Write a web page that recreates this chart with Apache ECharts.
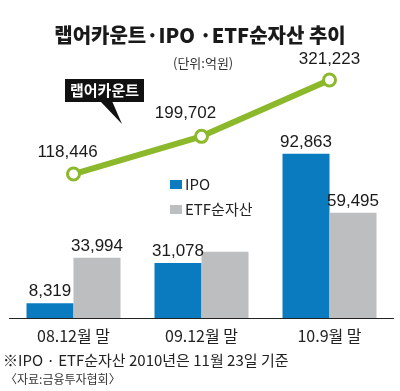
<!DOCTYPE html>
<html><head><meta charset="utf-8">
<script src="https://cdn.jsdelivr.net/npm/echarts@6/dist/echarts.min.js"></script>
<style>html,body{margin:0;padding:0;background:#fff}#c{width:400px;height:391px}</style>
</head><body><div id="c"></div>
<script>
const categories = ['08.12월 말', '09.12월 말', '10.9월 말'];
const ipo = [8319, 31078, 92863];
const etf = [33994, 37500, 59495];
const etfLabelShown = [true, false, true];
const wrap = [118446, 199702, 321223];
const wrapLabelOffsets = [[-6, -1], [-16, -2], [0, 0]];

const NUM = '"Liberation Sans Narrow", "Arial Narrow", "Liberation Sans", Arial, sans-serif';
const KR = '"Noto Sans CJK KR", "Noto Sans", sans-serif';
const chart = echarts.init(document.getElementById('c'));
chart.setOption({
  animation: false,
  backgroundColor: '#fff',
  title: [
    {text: '랩어카운트·IPO ·ETF순자산 추이', left: 'center', top: 20,
     textStyle: {fontFamily: KR, fontSize: 20, fontWeight: 900, color: '#1a1a1a'}},
    {text: '(단위:억원)', left: 168, top: 52,
     textStyle: {fontFamily: KR, fontSize: 13, fontWeight: 'normal', color: '#333'}}
  ],
  legend: {
    data: ['IPO', 'ETF순자산'], orient: 'vertical', left: 165, top: 172,
    itemWidth: 12, itemHeight: 9, itemGap: 10, icon: 'rect',
    textStyle: {fontFamily: KR, fontSize: 15, color: '#222', padding: [0, 0, 0, -2]}
  },
  grid: [
    {left: 9.5, width: 384, top: 141, bottom: 73},
    {left: 9.5, width: 384, top: 62, bottom: 162}
  ],
  xAxis: [
    {type: 'category', data: categories, gridIndex: 0,
     axisLine: {lineStyle: {color: '#222', width: 1}}, axisTick: {show: false},
     axisLabel: {fontFamily: KR, fontSize: 16, color: '#222', margin: 10}},
    {type: 'category', data: categories, gridIndex: 1, show: false}
  ],
  yAxis: [
    {type: 'value', min: 0, max: 100000, gridIndex: 0, show: false, splitLine: {show: false}},
    {type: 'value', min: 0, max: 360000, gridIndex: 1, show: false, splitLine: {show: false}}
  ],
  series: [
    {name: 'IPO', type: 'bar', data: ipo, barWidth: 47, barGap: '0%',
     itemStyle: {color: '#0b7bbf'},
     label: {show: true, position: 'top', distance: 3, fontFamily: NUM, fontSize: 17, color: '#1a1a1a',
       formatter: p => p.value.toLocaleString('en-US')}},
    {name: 'ETF순자산', type: 'bar', data: etf.map((v, i) => ({value: v, label: {show: etfLabelShown[i]}})),
     barWidth: 47, barGap: '0%', itemStyle: {color: '#bdbec0'},
     label: {show: true, position: 'top', distance: 3, fontFamily: NUM, fontSize: 17, color: '#1a1a1a',
       formatter: p => p.value.toLocaleString('en-US')}},
    {name: '랩어카운트', type: 'line', xAxisIndex: 1, yAxisIndex: 1,
     data: wrap.map((v, i) => ({value: v, label: {offset: wrapLabelOffsets[i]}})),
     lineStyle: {color: '#8cb82b', width: 6}, itemStyle: {color: '#fff', borderColor: '#8cb82b', borderWidth: 3},
     symbol: 'circle', symbolSize: 12,
     label: {show: true, position: 'top', fontFamily: NUM, fontSize: 17, color: '#1a1a1a',
       formatter: p => p.value.toLocaleString('en-US')}}
  ],
  graphic: [
    {type: 'polygon', shape: {points: [[100, 101], [112, 101], [122, 124]]}, style: {fill: '#111'}},
    {type: 'rect', shape: {x: 65, y: 79, width: 79, height: 23}, style: {fill: '#111'}},
    {type: 'text', x: 104.5, y: 90.5, style: {text: '랩어카운트', fill: '#fff', font: 'bold 15px ' + KR, align: 'center', verticalAlign: 'middle'}},
    {type: 'text', x: 3, y: 360, style: {text: '※IPO · ETF순자산 2010년은 11월 23일 기준', fill: '#222', font: '15px ' + KR, verticalAlign: 'middle'}},
    {type: 'text', x: 5, y: 379, style: {text: '〈자료:금융투자협회〉', fill: '#333', font: '12px ' + KR, verticalAlign: 'middle'}}
  ]
});
</script></body></html>
